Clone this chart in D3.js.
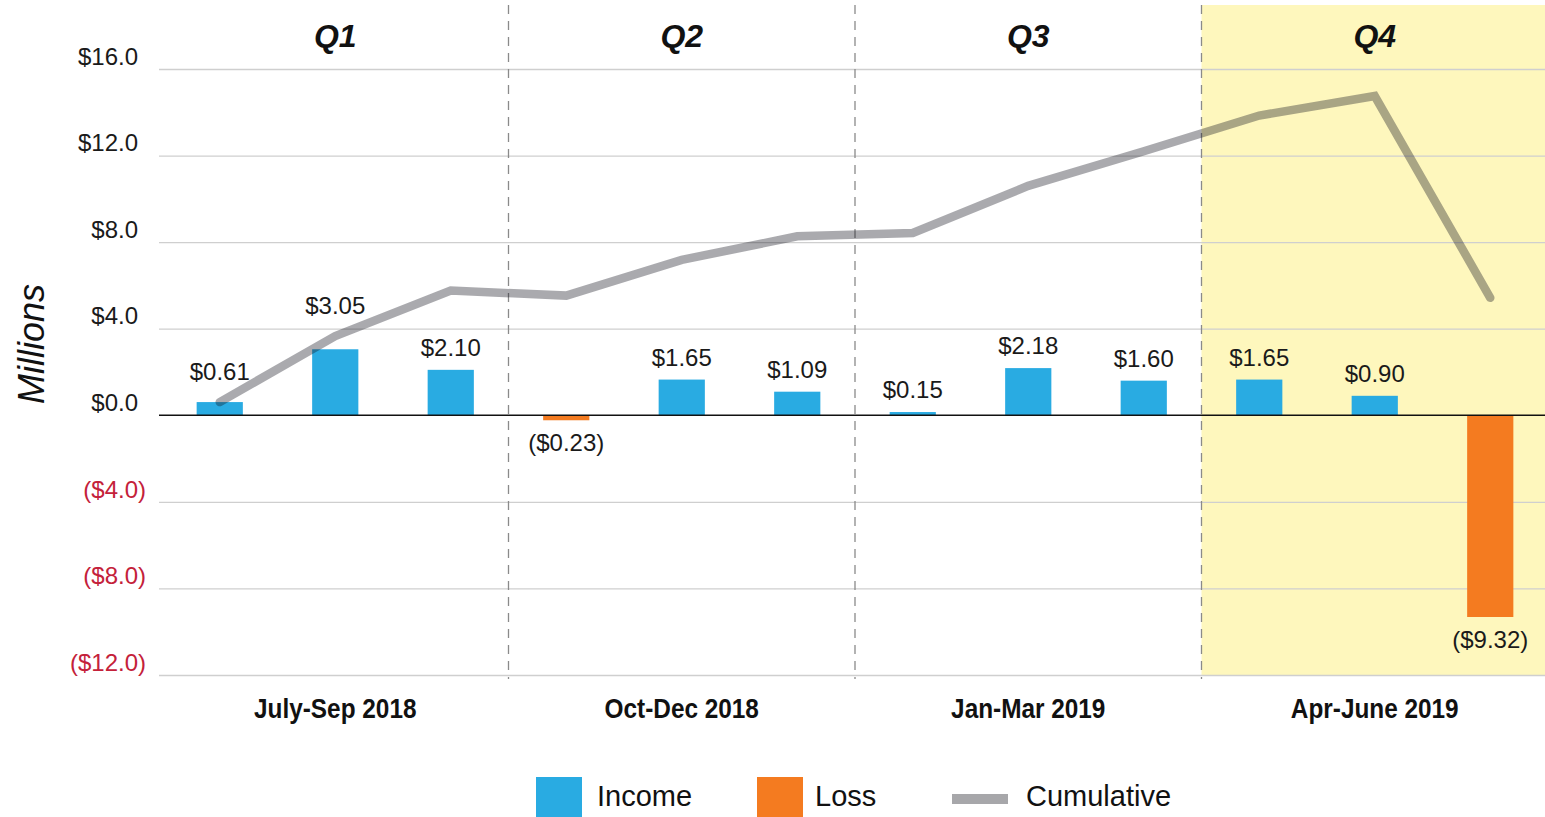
<!DOCTYPE html>
<html>
<head>
<meta charset="utf-8">
<script src="https://cdn.jsdelivr.net/npm/d3@7"></script>
<style>
  html, body { margin: 0; padding: 0; background: #ffffff; }
  svg { display: block; font-family: "Liberation Sans", Arial, sans-serif; }
</style>
</head>
<body>
<svg id="chart" width="1545" height="817"></svg>
<script>
// ---- data ----
const months = ["Jul 2018","Aug 2018","Sep 2018","Oct 2018","Nov 2018","Dec 2018",
                "Jan 2019","Feb 2019","Mar 2019","Apr 2019","May 2019","Jun 2019"];
const quarters = ["Q1","Q2","Q3","Q4"];
const quarterLabels = ["July-Sep 2018","Oct-Dec 2018","Jan-Mar 2019","Apr-June 2019"];
const netValues = [0.61, 3.05, 2.10, -0.23, 1.65, 1.09, 0.15, 2.18, 1.60, 1.65, 0.90, -9.32];
const cumulative = [0.61, 3.66, 5.76, 5.53, 7.18, 8.27, 8.42, 10.60, 12.20, 13.85, 14.75, 5.43];
const yTicks = [-12, -8, -4, 0, 4, 8, 12, 16];
const highlightQuarter = "Q4";
const legendItems = ["Income", "Loss", "Cumulative"];

// ---- setup ----
const svg = d3.select("#chart");
const plotLeft = 159, plotRight = 1545, plotTop = 5;

const x = d3.scaleBand().domain(months).range([162, 1548]).paddingInner(0.6).paddingOuter(0.3);
const xq = d3.scaleBand().domain(quarters).range([162, 1548]);
const y = d3.scaleLinear().domain([-12, 16]).range([675, 69]);

const colIncome = "#29abe2", colLoss = "#f47b20";
const fmtMoney = v => v < 0 ? "($" + Math.abs(v).toFixed(2) + ")" : "$" + v.toFixed(2);
const fmtTick = v => v < 0 ? "($" + Math.abs(v).toFixed(1) + ")" : "$" + v.toFixed(1);

// highlighted quarter background
svg.append("rect")
  .attr("x", xq(highlightQuarter)).attr("y", plotTop)
  .attr("width", plotRight - xq(highlightQuarter))
  .attr("height", y(-12) - plotTop)
  .attr("fill", "#fef7bd");

// gridlines
const grid = svg.append("g").attr("transform", `translate(${plotLeft},0)`)
  .call(d3.axisRight(y).tickValues(yTicks.filter(v => v !== 0)).tickSize(plotRight - plotLeft).tickFormat(""));
grid.select(".domain").remove();
grid.selectAll("line").attr("stroke", "#cfcfcf").attr("stroke-width", 1.3);

// y tick labels
const yAxis = svg.append("g").attr("transform", "translate(138,0)")
  .call(d3.axisLeft(y).tickValues(yTicks).tickSize(0).tickPadding(0).tickFormat(fmtTick));
yAxis.select(".domain").remove();
yAxis.selectAll("text")
  .attr("font-size", 24)
  .attr("font-family", "'Liberation Sans', Arial, sans-serif")
  .attr("dy", "-0.2em")
  .attr("x", d => d < 0 ? 8 : 0)
  .attr("fill", d => d < 0 ? "#c4213a" : "#1a1a1a");

// quarter dividers (dashed)
svg.append("g").selectAll("line")
  .data(quarters.slice(1))
  .join("line")
  .attr("x1", d => xq(d)).attr("x2", d => xq(d))
  .attr("y1", plotTop).attr("y2", y(-12) + 4)
  .attr("stroke", "#8a8a8a").attr("stroke-width", 1.3)
  .attr("stroke-dasharray", "9,7");

// bars
svg.append("g").selectAll("rect")
  .data(months)
  .join("rect")
  .attr("x", d => x(d))
  .attr("width", x.bandwidth())
  .attr("y", (d, i) => y(Math.max(0, netValues[i])))
  .attr("height", (d, i) => Math.abs(y(netValues[i]) - y(0)))
  .attr("fill", (d, i) => netValues[i] < 0 ? colLoss : colIncome);

// zero line
svg.append("line")
  .attr("x1", plotLeft).attr("x2", plotRight)
  .attr("y1", y(0)).attr("y2", y(0))
  .attr("stroke", "#111").attr("stroke-width", 1.6);

// cumulative line
const line = d3.line()
  .x((d, i) => x(months[i]) + x.bandwidth() / 2)
  .y(d => y(d));
svg.append("path")
  .datum(cumulative)
  .attr("d", line)
  .attr("fill", "none")
  .attr("stroke", "#14141e")
  .attr("stroke-opacity", 0.36)
  .attr("stroke-width", 8.5)
  .attr("stroke-linecap", "round")
  .attr("stroke-linejoin", "miter");

// bar value labels
svg.append("g").selectAll("text")
  .data(months)
  .join("text")
  .attr("x", d => x(d) + x.bandwidth() / 2)
  .attr("y", (d, i) => {
    const v = netValues[i];
    if (v < 0) return y(v) + 31;
    const top = y(v), ly = y(cumulative[i]);
    return (ly > top - 40) ? ly - 22 : top - 14;
  })
  .attr("text-anchor", "middle")
  .attr("font-size", 24)
  .attr("fill", "#1a1a1a")
  .text((d, i) => fmtMoney(netValues[i]));

// quarter titles
svg.append("g").selectAll("text")
  .data(quarters)
  .join("text")
  .attr("x", d => xq(d) + xq.bandwidth() / 2)
  .attr("y", 47)
  .attr("text-anchor", "middle")
  .attr("font-size", 32)
  .attr("font-weight", "bold")
  .attr("font-style", "italic")
  .attr("fill", "#111")
  .text(d => d);

// bottom axis
const xAxis = svg.append("g").attr("transform", `translate(0,${y(-12)})`)
  .call(d3.axisBottom(xq).tickSize(0).tickPadding(0).tickFormat((d, i) => quarterLabels[i]));
xAxis.select(".domain").remove();
xAxis.selectAll(".tick text")
  .attr("dy", 0).attr("y", 0)
  .attr("transform", "translate(0,43) scale(0.87,1)")
  .attr("font-size", 28)
  .attr("font-weight", "bold")
  .attr("font-family", "'Liberation Sans Narrow', 'Arial Narrow', 'Liberation Sans', sans-serif")
  .attr("fill", "#111");

// y title
svg.append("text")
  .attr("transform", "translate(44,344) rotate(-90)")
  .attr("text-anchor", "middle")
  .attr("font-size", 36)
  .attr("font-style", "italic")
  .attr("fill", "#111")
  .text("Millions");

// legend
const legend = svg.append("g");
const legX = [536, 757, 952];
const legTextX = [597, 815, 1026];
legendItems.forEach((name, i) => {
  if (i < 2) {
    legend.append("rect").attr("x", legX[i]).attr("y", 777).attr("width", 46).attr("height", 45)
      .attr("fill", i === 0 ? colIncome : colLoss);
  } else {
    legend.append("rect").attr("x", legX[i]).attr("y", 794).attr("width", 56).attr("height", 10)
      .attr("fill", "#a7a7aa");
  }
  legend.append("text").attr("x", legTextX[i]).attr("y", 806)
    .attr("font-size", 29).attr("fill", "#111").text(name);
});
</script>
</body>
</html>
